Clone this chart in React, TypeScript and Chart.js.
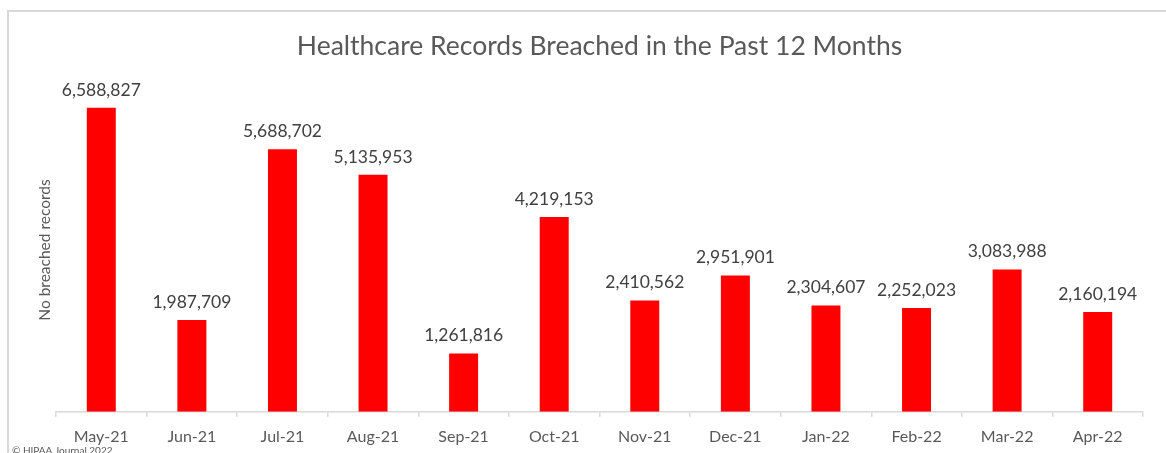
import React, { useEffect, useRef } from "react";
import { Chart, registerables } from "chart.js";

Chart.register(...registerables);

const categories = ["May-21", "Jun-21", "Jul-21", "Aug-21", "Sep-21", "Oct-21", "Nov-21", "Dec-21", "Jan-22", "Feb-22", "Mar-22", "Apr-22"];
const recordsBreached = [6588827, 1987709, 5688702, 5135953, 1261816, 4219153, 2410562, 2951901, 2304607, 2252023, 3083988, 2160194];
const chartTitle = "Healthcare Records Breached in the Past 12 Months";
const yAxisTitle = "No breached records";
const copyright = "© HIPAA Journal 2022";

const FONT = "Lato, 'Open Sans', sans-serif";

const overlayPlugin = {
  id: "overlay",
  afterDatasetsDraw(chart: any) {
    const ctx = chart.ctx;
    const meta = chart.getDatasetMeta(0);
    ctx.save();
    ctx.font = `17.5px ${FONT}`;
    ctx.fillStyle = "#404040";
    ctx.textAlign = "center";
    ctx.textBaseline = "bottom";
    meta.data.forEach((bar: any, i: number) => {
      ctx.fillText(recordsBreached[i].toLocaleString("en-US"), bar.x, bar.y - 9);
    });
    // y-axis title
    ctx.translate(45, 250);
    ctx.rotate(-Math.PI / 2);
    ctx.font = `15.5px ${FONT}`;
    ctx.fillStyle = "#595959";
    ctx.textBaseline = "middle";
    ctx.fillText(yAxisTitle, 0, 0);
    ctx.restore();
    ctx.save();
    ctx.font = `10px ${FONT}`;
    ctx.fillStyle = "#595959";
    ctx.textAlign = "left";
    ctx.textBaseline = "top";
    ctx.fillText(copyright, 12, 446);
    ctx.restore();
  },
};

export default function App() {
  const ref = useRef<HTMLCanvasElement>(null);
  useEffect(() => {
    if (!ref.current) return;
    const chart = new Chart(ref.current, {
      type: "bar",
      data: {
        labels: categories,
        datasets: [
          {
            data: recordsBreached,
            backgroundColor: "#ff0000",
            borderWidth: 0,
            barPercentage: 0.32,
            categoryPercentage: 1,
          },
        ],
      },
      plugins: [overlayPlugin],
      options: {
        responsive: false,
        animation: false,
        layout: { padding: { left: 56, right: 23, top: 0, bottom: 8 } },
        plugins: {
          legend: { display: false },
          tooltip: { enabled: false },
          title: {
            display: true,
            text: chartTitle,
            color: "#595959",
            font: { family: FONT, size: 26.5, weight: "normal" },
            padding: { top: 31, bottom: 26 },
          },
        },
        scales: {
          x: {
            grid: { display: true, drawOnChartArea: false, tickLength: 5, color: "#d9d9d9", lineWidth: 1.5 },
            border: { display: true, color: "#d9d9d9", width: 1.5 },
            ticks: { color: "#595959", font: { family: FONT, size: 16 }, padding: 10, maxRotation: 0 },
          },
          y: {
            display: false,
            min: 0,
            max: 7000000,
          },
        },
      },
    });
    return () => chart.destroy();
  }, []);
  return (
    <div style={{ position: "fixed", left: 0, top: 0, width: 1166, height: 453, background: "#fff", overflow: "hidden" }}>
      <div
        style={{
          position: "absolute",
          left: 7,
          top: 10,
          width: 1200,
          height: 500,
          border: "2px solid #d9d9d9",
          boxSizing: "border-box",
        }}
      />
      <canvas ref={ref} width={1166} height={464} style={{ position: "absolute", left: 0, top: 0 }} />
    </div>
  );
}
